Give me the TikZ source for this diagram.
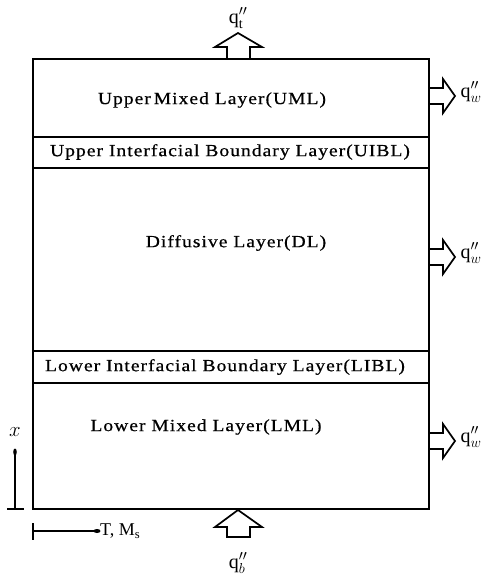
\documentclass[tikz,border=0pt]{standalone}
\usepackage{fontspec}
\setmainfont{Liberation Serif}
\newfontfamily\labfont[FakeStretch=1.15,LetterSpace=6,FakeBold=0.6]{Liberation Serif}
\begin{document}
\begin{tikzpicture}[x=1pt,y=-1pt,
  frame/.style={line width=1.9pt},
  sep/.style={line width=1.4pt},
  layertext/.style={font=\labfont\fontsize{17}{20}\selectfont, inner sep=0pt},
  flux/.style={line width=1.7pt, line join=miter},
  qlab/.style={font=\fontsize{20}{23}\selectfont, inner sep=0pt},
  axis/.style={line width=1.8pt}]
\useasboundingbox (0,0) rectangle (487,578);
% outer box
\coordinate (tl) at (33,59);
\coordinate (br) at (429,509);
\draw[frame] (tl) rectangle (br);
\draw[sep] (33,137) -- (429,137);
\draw[sep] (33,168) -- (429,168);
\draw[sep] (33,351) -- (429,351);
\draw[sep] (33,383) -- (429,383);
% layer texts
\node[layertext] (uml) at (212,100) {Upper\hspace{-3pt} Mixed Layer(UML)};
\node[layertext] (uibl) at (230,152) {Upper Interfacial Boundary Layer(UIBL)};
\node[layertext] (dl) at (236,243) {Diffusive Layer(DL)};
\node[layertext] (libl) at (225,367) {Lower Interfacial Boundary Layer(LIBL)};
\node[layertext] (lml) at (206,427) {Lower Mixed Layer(LML)};
% right flux arrows
\foreach \yy/\nm in {96/qa,257/qb,441/qc}{
  \draw[flux] (429,\yy-8) -- (443,\yy-8) -- (443,\yy-17) -- (455,\yy) -- (443,\yy+17) -- (443,\yy+8) -- (429,\yy+8);
  \node[qlab] (\nm) at (471,\yy-4) {q$''_{w}$};
}
% top flux arrow
\draw[flux] (227,59) -- (227,47) -- (215,47) -- (238,33) -- (262,47) -- (250,47) -- (250,59);
\node[qlab] (qt) at (238,18) {q$''_{\mathrm{t}}$};
% bottom flux arrow
\draw[flux] (227,537) -- (227,527) -- (215,527) -- (238,510) -- (262,527) -- (250,527) -- (250,537) -- cycle;
\node[qlab] (qbot) at (238,563) {q$''_{b}$};
% x axis indicator
\coordinate (xtop) at (15,452);
\coordinate (xbot) at (15,509);
\draw[axis] (xtop) -- (xbot);
\draw[axis] (7,509) -- (24,509);
\fill (xtop) ellipse (1.8pt and 3.5pt);
\node[qlab] (xl) at (15,432) {$x$};
% T, Ms indicator
\coordinate (tleft) at (33,531);
\coordinate (tright) at (97,531);
\draw[axis] (33,523) -- (33,540);
\draw[line width=1.5pt] (tleft) -- (tright);
\fill (tright) ellipse (3.5pt and 2pt);
\node[qlab, anchor=west, font=\fontsize{18}{21}\selectfont] (tm) at (100,531) {T, M$_{\mathrm{s}}$};
\end{tikzpicture}
\end{document}
